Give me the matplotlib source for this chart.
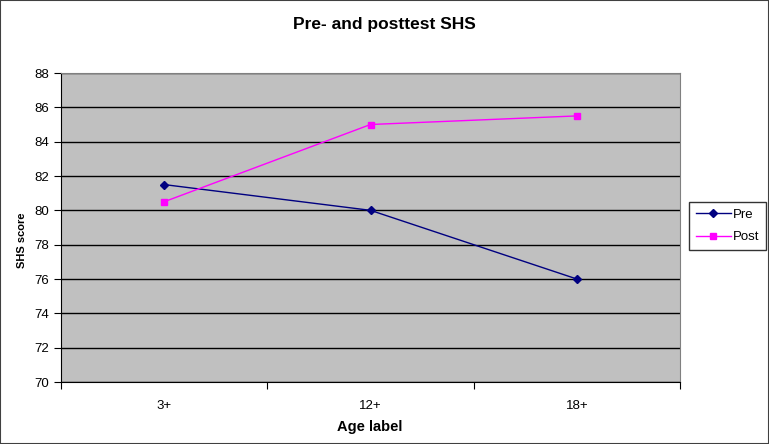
import matplotlib.pyplot as plt
from matplotlib.patches import Rectangle

# Datos del gráfico
categorias = ['3+', '12+', '18+']
pre = [81.5, 80, 76]
post = [80.5, 85, 85.5]
yticks = [70, 72, 74, 76, 78, 80, 82, 84, 86, 88]

plt.rcParams['font.family'] = ['Liberation Sans', 'DejaVu Sans']

fig = plt.figure(figsize=(7.69, 4.44), dpi=100)
ax = fig.add_axes([61 / 769, 62 / 444, 619 / 769, 309 / 444])
ax.set_facecolor('#C0C0C0')

x = range(len(categorias))
ax.plot(x, pre, color='#000080', marker='D', markersize=4.5, linewidth=1, label='Pre', zorder=3)
ax.plot(x, post, color='#FF00FF', marker='s', markersize=4.5, linewidth=1, label='Post', zorder=3)

ax.set_xlim(-0.5, 2.5)
ax.set_ylim(70, 88)
ax.set_yticks(yticks)
ax.yaxis.grid(True, color='black', linewidth=1)
ax.set_axisbelow(True)

# ticks en los límites de categoría, etiquetas en el centro
ax.set_xticks([-0.5, 0.5, 1.5, 2.5])
ax.set_xticklabels([])
ax.set_xticks(list(x), minor=True)
ax.set_xticklabels(categorias, minor=True)
ax.tick_params(axis='x', which='minor', length=0, pad=13, labelsize=9.5)
ax.tick_params(axis='x', which='major', length=5, direction='out')
ax.tick_params(axis='y', length=5, labelsize=9.5)

for lado in ['top', 'right']:
    ax.spines[lado].set_color('#808080')
for lado in ['left', 'bottom']:
    ax.spines[lado].set_color('black')

fig.text(370 / 769, 1 - 427 / 444, 'Age label', ha='center', va='center',
         fontsize=10.5, weight='bold')
fig.text(22 / 769, 1 - 240 / 444, 'SHS score', ha='center', va='center',
         fontsize=8, weight='bold', rotation=90)
fig.text(0.5, 1 - 25 / 444, 'Pre- and posttest SHS', ha='center', va='center',
         fontsize=12.5, weight='bold')

leg = fig.legend(loc='center left', bbox_to_anchor=(689 / 769, 1 - 226 / 444),
                 fontsize=9.5, frameon=True, fancybox=False, handlelength=2.6,
                 borderpad=0.55, labelspacing=0.75, handletextpad=0.15,
                 borderaxespad=0)
leg.get_frame().set_edgecolor('black')
leg.get_frame().set_linewidth(1)

# borde de la figura
fig.patches.append(Rectangle((0, 0), 1, 1, transform=fig.transFigure, fill=False,
                             edgecolor='#404040', linewidth=1.5))

fig.savefig('out.png', dpi=100)
